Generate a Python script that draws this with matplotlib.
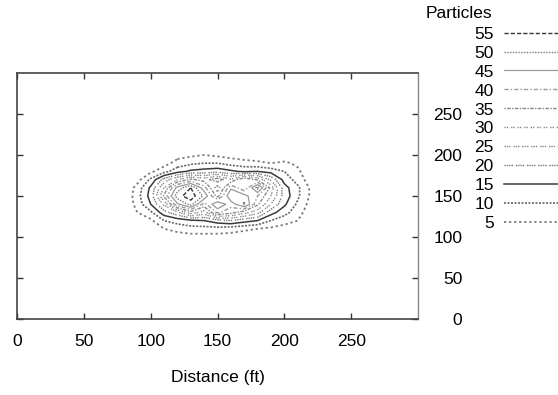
import numpy as np
import matplotlib
matplotlib.use("Agg")
import matplotlib.pyplot as plt
from matplotlib.lines import Line2D

plt.rcParams['font.family'] = ['Liberation Sans', 'DejaVu Sans']
plt.rcParams['font.size'] = 12.5

# particle counts on a 10 ft grid (rows: y, columns: x)
x_ft = [80, 90, 100, 110, 120, 130, 140, 150, 160, 170, 180, 190, 200, 210, 220, 230]
y_ft = [210, 200, 190, 180, 170, 160, 150, 140, 130, 120, 110, 100, 90]
particles = [
    # 80 90 100 110 120 130 140 150 160 170 180 190 200 210 220 230
    [0, 0, 0, 0, 0, 0, 0, 0, 0, 0, 0, 0, 0, 0, 0, 0],              # y=210
    [0, 0, 0, 0, 3, 4, 5, 4, 3, 2, 2, 2, 1, 0, 0, 0],              # y=200
    [0, 0, 1, 3, 7, 9, 10, 10, 8, 7, 6, 5, 6, 4, 0, 0],            # y=190
    [0, 0, 4, 8, 13, 16, 17, 18, 16, 14, 15, 13, 10, 6, 1, 0],     # y=180
    [0, 3, 11, 22, 30, 36, 33, 38, 31, 40, 34, 24, 13, 8, 2, 0],   # y=170
    [0, 7, 16, 30, 47, 55, 42, 27, 44, 36, 52, 33, 17, 11, 4, 0],  # y=160
    [0, 8, 17, 36, 53, 58, 49, 33, 50, 47, 40, 30, 18, 11, 4, 0],  # y=150
    [0, 7, 15, 26, 44, 52, 38, 50, 42, 51, 36, 25, 16, 9, 3, 0],   # y=140
    [0, 5, 9, 18, 24, 33, 28, 41, 37, 32, 27, 17, 12, 7, 2, 0],    # y=130
    [0, 2, 4, 10, 12, 14, 15, 18, 20, 17, 15, 10, 7, 5, 1, 0],     # y=120
    [0, 0, 1, 5, 7, 8, 8, 8, 7, 6, 5, 4, 3, 1, 0, 0],              # y=110
    [0, 0, 0, 1, 2, 3, 3, 3, 3, 2, 1, 1, 0, 0, 0, 0],              # y=100
    [0, 0, 0, 0, 0, 0, 0, 0, 0, 0, 0, 0, 0, 0, 0, 0],              # y=90
]
levels = [5, 10, 15, 20, 25, 30, 35, 40, 45, 50, 55]

# gnuplot-like monochrome line types, one per level
styles = {
    5:  dict(color='#777777', lw=1.3, ls=(0, (1.2, 1.6))),
    10: dict(color='#666666', lw=1.2, ls=(0, (1.2, 0.9))),
    15: dict(color='#3a3a3a', lw=1.1, ls='-'),
    20: dict(color='#777777', lw=1.0, ls=(0, (1, 0.7, 1, 0.7, 1, 0.7, 1, 2))),
    25: dict(color='#888888', lw=1.0, ls=(0, (1, 0.7, 1, 0.7, 1, 2))),
    30: dict(color='#888888', lw=1.0, ls=(0, (1, 0.7, 1, 2))),
    35: dict(color='#888888', lw=1.0, ls=(0, (1, 1, 2.5, 1))),
    40: dict(color='#999999', lw=1.0, ls=(0, (3, 1.5, 1, 1.5))),
    45: dict(color='#999999', lw=0.9, ls='-'),
    50: dict(color='#777777', lw=1.0, ls=(0, (1, 1))),
    55: dict(color='#333333', lw=1.0, ls=(0, (3, 1.5))),
}

X, Y = np.meshgrid(x_ft, y_ft)
Z = np.array(particles, dtype=float)

fig = plt.figure(figsize=(5.58, 3.95), dpi=100)
ax = fig.add_axes([0.0305, 0.1924, 0.7186, 0.6228])

for lev in levels:
    s = styles[lev]
    ax.contour(X, Y, Z, levels=[lev], colors=[s['color']],
               linewidths=s['lw'], linestyles=[s['ls']])

ax.set_xlim(0, 300)
ax.set_ylim(0, 300)
ax.set_xticks([0, 50, 100, 150, 200, 250])
ax.set_yticks([0, 50, 100, 150, 200, 250])
ax.tick_params(axis='x', direction='in', top=True, bottom=True, length=4,
               width=1.0, pad=11, color='#333333')
ax.tick_params(axis='y', direction='in', left=True, right=True, length=4,
               width=1.0, labelleft=False, labelright=True, pad=32,
               color='#333333')
for lab in ax.yaxis.get_ticklabels():
    lab.set_horizontalalignment('right')
for side in ['left', 'top', 'bottom']:
    ax.spines[side].set_color('#444444')
    ax.spines[side].set_linewidth(1.2)
ax.spines['right'].set_color('#888888')
ax.spines['right'].set_linewidth(1.0)

ax.set_xlabel('Distance (ft)', labelpad=15)

# key: labels on the left, line samples on the right
handles = []
labels = []
for lev in reversed(levels):
    s = styles[lev]
    handles.append(Line2D([], [], color=s['color'], lw=s['lw'], ls=s['ls']))
    labels.append(str(lev))
fig.legend(handles, labels, markerfirst=False, loc='upper left',
           bbox_to_anchor=(0.850, 0.933), bbox_transform=fig.transFigure,
           frameon=False, handlelength=4.0, handletextpad=0.6,
           labelspacing=0.22, borderpad=0, borderaxespad=0)
fig.text(0.882, 0.966, 'Particles', ha='right', va='center')

fig.savefig('out.png', dpi=100)
